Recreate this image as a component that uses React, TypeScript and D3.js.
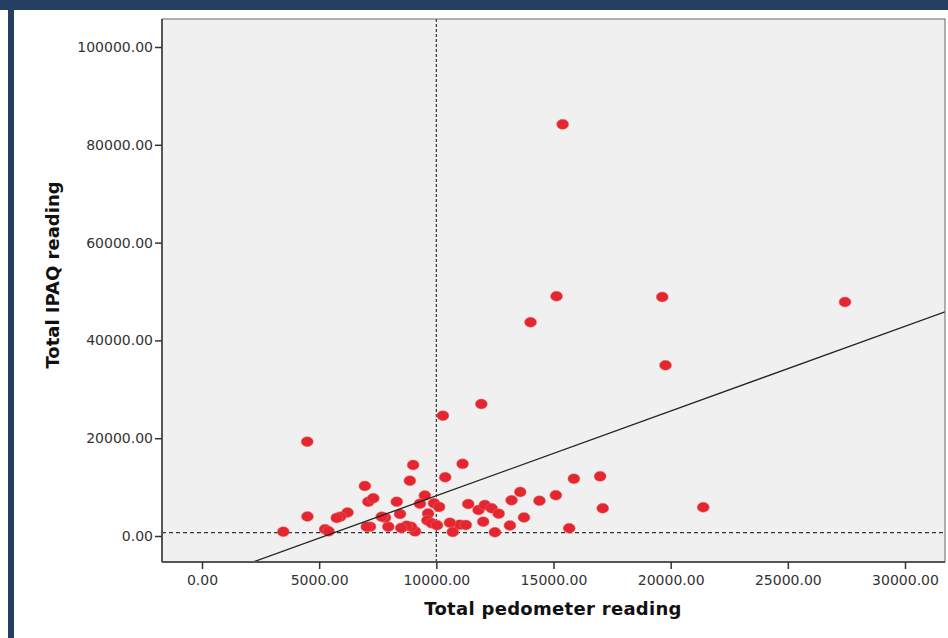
import React, { useEffect, useRef } from 'react'
import * as d3 from 'd3'

// pedometer (x) vs IPAQ (y) readings
const pedometer = [
  15390, 15130, 14020, 19640, 19780, 27440, 11920, 10280, 4490, 11120,
  10380, 9010, 8870, 6950, 15870, 16990, 21390, 17100, 15100, 15670,
  14400, 13580, 13210, 13740, 13140, 12500, 12000, 11800, 12070, 12360,
  12660, 11360, 11000, 11260, 10580, 10700, 9510, 9300, 9900, 10120,
  9650, 9620, 9800, 10030, 9090, 8920, 8730, 8500, 8450, 8310,
  7950, 7810, 7670, 7170, 7030, 7100, 7310, 6210, 5900, 5750,
  5250, 5400, 4500, 3470,
]
const ipaq = [
  84180, 49020, 43700, 48880, 34900, 47850, 26990, 24610, 19290, 14750,
  12000, 14520, 11310, 10225, 11700, 12200, 5870, 5660, 8350, 1570,
  7200, 9000, 7300, 3800, 2150, 760, 2920, 5320, 6340, 5660,
  4570, 6540, 2300, 2250, 2720, 820, 8280, 6600, 6700, 5950,
  4600, 3200, 2600, 2200, 950, 1900, 2100, 1650, 4500, 7010,
  1900, 3740, 3950, 1900, 1900, 7010, 7710, 4800, 3950, 3700,
  1370, 950, 4000, 880,
]

const xTicks = [0, 5000, 10000, 15000, 20000, 25000, 30000]
const yTicks = [0, 20000, 40000, 60000, 80000, 100000]

// reference lines and fit line
const refX = 10000
const refY = 700
const fitIntercept = -9086
const fitSlope = 1.732

const width = 948
const height = 638

const App = () => {
  const svgRef = useRef(null)

  useEffect(() => {
    const svg = d3.select(svgRef.current)
    svg.selectAll('*').remove()

    // plot box
    const left = 162
    const right = 945
    const top = 19
    const bottom = 562

    const xScale = d3.scaleLinear().domain([0, 30000]).range([202, 905])
    const yScale = d3.scaleLinear().domain([0, 100000]).range([536, 47])

    // frame
    svg.append('rect').attr('x', 0).attr('y', 0).attr('width', width).attr('height', height).attr('fill', '#ffffff')
    svg.append('rect').attr('x', 0).attr('y', 0).attr('width', width).attr('height', 10).attr('fill', '#243f5f')
    svg.append('rect').attr('x', 8).attr('y', 0).attr('width', 6).attr('height', height).attr('fill', '#243f5f')

    svg.append('defs').append('clipPath').attr('id', 'plotclip')
      .append('rect').attr('x', left).attr('y', top).attr('width', right - left).attr('height', bottom - top)

    svg.append('rect')
      .attr('x', left).attr('y', top)
      .attr('width', right - left).attr('height', bottom - top)
      .attr('fill', '#f0f0f0')

    const plot = svg.append('g').attr('clip-path', 'url(#plotclip)')

    // dashed reference lines
    plot.append('line')
      .attr('x1', xScale(refX)).attr('x2', xScale(refX))
      .attr('y1', top).attr('y2', bottom)
      .attr('stroke', '#333').attr('stroke-width', 1.2).attr('stroke-dasharray', '3,2')
    plot.append('line')
      .attr('x1', left).attr('x2', right)
      .attr('y1', yScale(refY)).attr('y2', yScale(refY))
      .attr('stroke', '#333').attr('stroke-width', 1.2).attr('stroke-dasharray', '4,3')

    // points
    const points = pedometer.map((d, i) => ({ x: d, y: ipaq[i] }))
    plot.selectAll('ellipse')
      .data(points)
      .enter()
      .append('ellipse')
      .attr('cx', (d) => xScale(d.x))
      .attr('cy', (d) => yScale(d.y))
      .attr('rx', 6)
      .attr('ry', 5)
      .attr('fill', '#e3262f')
      .attr('stroke', '#f07070')
      .attr('stroke-width', 0.8)
      .attr('stroke-opacity', 0.6)

    // fit line
    const x0 = xScale.invert(left)
    const x1 = xScale.invert(right)
    const line = d3.line()
      .x((d) => xScale(d[0]))
      .y((d) => yScale(d[1]))
    plot.append('path')
      .attr('d', line([[x0, fitIntercept + fitSlope * x0], [x1, fitIntercept + fitSlope * x1]]))
      .attr('fill', 'none')
      .attr('stroke', '#222')
      .attr('stroke-width', 1.3)

    // box border
    svg.append('rect')
      .attr('x', left).attr('y', top)
      .attr('width', right - left).attr('height', bottom - top)
      .attr('fill', 'none').attr('stroke', '#666').attr('stroke-width', 1)
    svg.append('line').attr('x1', left).attr('x2', left).attr('y1', top).attr('y2', bottom)
      .attr('stroke', '#555').attr('stroke-width', 2)
    svg.append('line').attr('x1', left).attr('x2', right).attr('y1', bottom).attr('y2', bottom)
      .attr('stroke', '#555').attr('stroke-width', 2)

    // axes
    const xAxis = d3.axisBottom(xScale).tickValues(xTicks).tickSize(7).tickPadding(6)
      .tickFormat((d) => d3.format('.2f')(d))
    const gx = svg.append('g').attr('transform', `translate(0,${bottom})`).call(xAxis)
    gx.select('.domain').remove()
    gx.selectAll('.tick line').attr('stroke', '#333').attr('stroke-width', 1.5)
    gx.selectAll('.tick text')
      .attr('fill', '#333').attr('font-size', 14).attr('font-family', 'DejaVu Sans, sans-serif')

    const yAxis = d3.axisLeft(yScale).tickValues(yTicks).tickSize(7).tickPadding(2)
      .tickFormat((d) => d3.format('.2f')(d))
    const gy = svg.append('g').attr('transform', `translate(${left},0)`).call(yAxis)
    gy.select('.domain').remove()
    gy.selectAll('.tick line').attr('stroke', '#333').attr('stroke-width', 1.5)
    gy.selectAll('.tick text')
      .attr('fill', '#333').attr('font-size', 14).attr('font-family', 'DejaVu Sans, sans-serif')

    // axis titles
    svg.append('text')
      .attr('x', 553).attr('y', 615)
      .attr('text-anchor', 'middle')
      .attr('font-family', 'DejaVu Sans, sans-serif')
      .attr('font-weight', 'bold')
      .attr('font-size', 18)
      .attr('letter-spacing', 0.3)
      .attr('fill', '#111')
      .text('Total pedometer reading')
    svg.append('text')
      .attr('transform', 'translate(59,275) rotate(-90)')
      .attr('text-anchor', 'middle')
      .attr('font-family', 'DejaVu Sans, sans-serif')
      .attr('font-weight', 'bold')
      .attr('font-size', 18)
      .attr('fill', '#111')
      .text('Total IPAQ reading')
  }, [])

  return (
    <div style={{ position: 'absolute', left: 0, top: 0 }}>
      <svg ref={svgRef} width={width} height={height} style={{ display: 'block' }} />
    </div>
  )
}

export default App
